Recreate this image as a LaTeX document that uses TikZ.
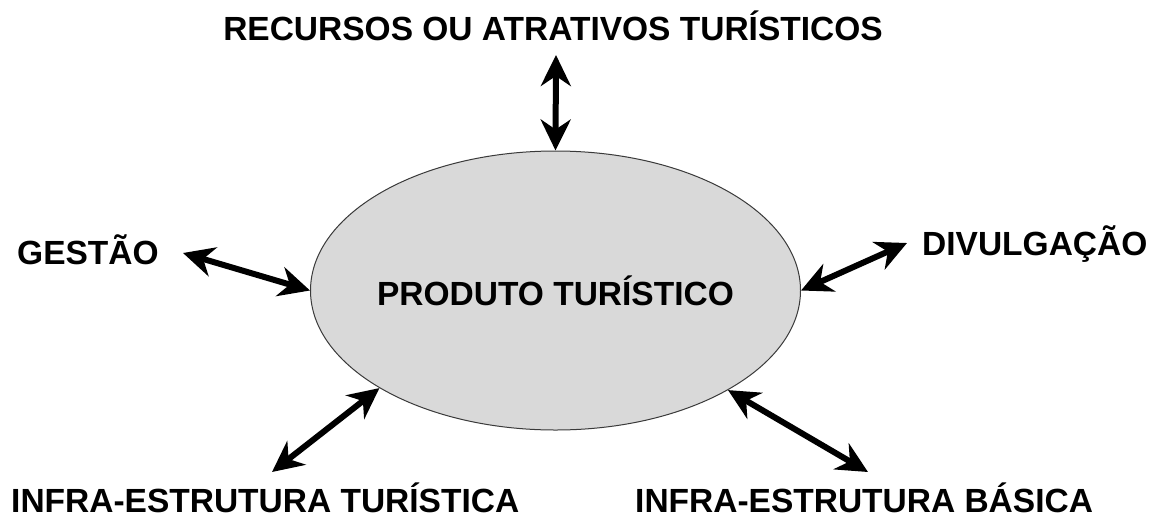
\documentclass[tikz,border=0pt]{standalone}
\usepackage{fontspec}
\setmainfont{Liberation Sans}
\usetikzlibrary{arrows.meta,shapes.geometric}
\definecolor{ellfill}{HTML}{D9D9D9}
\definecolor{ellline}{HTML}{3A3A3A}
\begin{document}
\begin{tikzpicture}[x=1pt,y=-1pt,
  lbl/.style={font=\fontsize{33.5}{33.5}\selectfont\bfseries, inner sep=0pt},
  link/.style={{Stealth[length=31pt,width=30pt,inset=10pt]}-{Stealth[length=31pt,width=30pt,inset=10pt]}, line width=6pt},
  prodshape/.style={ellipse, draw=ellline, line width=1pt, fill=ellfill, minimum width=490pt, minimum height=279pt, inner sep=0pt}]
\useasboundingbox (0,0) rectangle (1151,517);
\node[prodshape, label={[lbl]center:PRODUTO TURÍSTICO}] (prod) at (555.5,290.5) {};
\node[lbl, anchor=base] (rec) at (553,40) {RECURSOS OU ATRATIVOS TURÍSTICOS};
\node[lbl, anchor=base west] (ges) at (17,264) {GESTÃO};
\node[lbl, anchor=base west] (div) at (922,255) {DIVULGAÇÃO};
\node[lbl, anchor=base west] (ift) at (11,512) {INFRA-ESTRUTURA TURÍSTICA};
\node[lbl, anchor=base west] (ifb) at (635,512) {INFRA-ESTRUTURA BÁSICA};
\coordinate (tTop) at (556,55);
\coordinate (tLeft) at (183,253);
\coordinate (tRight) at (907,243);
\coordinate (tBL) at (272,472);
\coordinate (tBR) at (868,472);
\draw[link] (tTop) -- (prod.north);
\draw[link] (tLeft) -- (prod.west);
\draw[link] (tRight) -- (prod.east);
\draw[link] (tBL) -- (prod.209.5);
\draw[link] (tBR) -- (prod.330.5);
\end{tikzpicture}
\end{document}
